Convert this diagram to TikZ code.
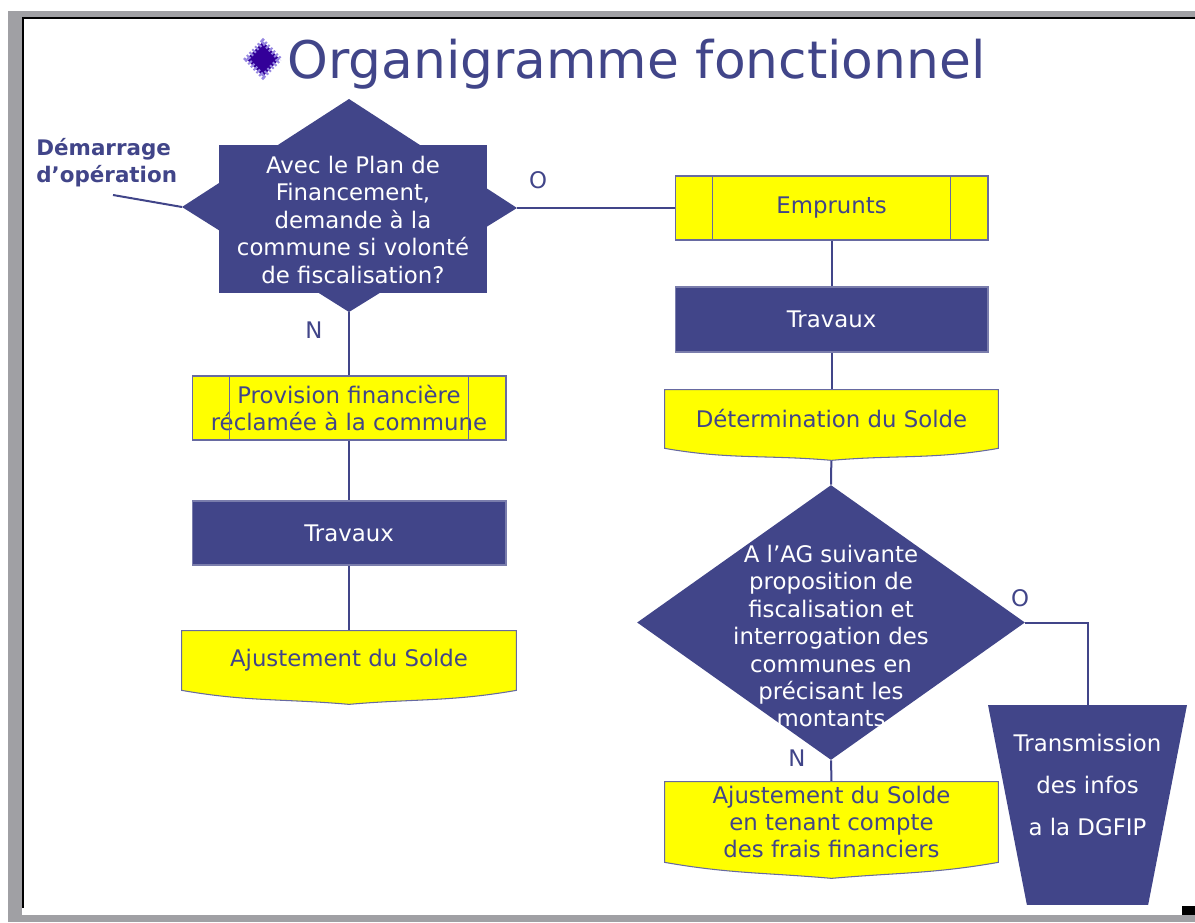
\documentclass[tikz,border=0pt]{standalone}
\usepackage{fontspec}
\setmainfont{DejaVu Sans}
\usetikzlibrary{shapes.geometric,calc,backgrounds}

\definecolor{navy}{RGB}{65,69,137}
\definecolor{lemon}{RGB}{255,255,0}
\definecolor{framegrey}{RGB}{160,160,164}
\definecolor{bulletviolet}{RGB}{51,0,153}
\definecolor{halo}{RGB}{150,135,225}
\newcommand{\flattext}[3][0pt]{\makebox[0pt]{\raisebox{#1}[0pt][0pt]{\parbox[c]{#2}{\centering #3}}}}

\begin{document}
\begin{tikzpicture}[x=0.02cm, y=-0.02cm,
	every node/.style={font=\fontsize{13}{15.6}\selectfont, inner sep=0pt},
	link/.style={draw=navy, line width=0.04cm},
	yellowbox/.style={rectangle, fill=lemon, draw=navy!80, line width=0.6pt, text=navy, align=center},
	bluebox/.style={rectangle, fill=navy, draw=navy!70, line width=0.6pt, text=white, align=center},
	docbox/.style={rectangle, text=navy, align=center},
	docshape/.style={fill=lemon, draw=navy!80, line width=0.6pt},
	decision/.style={diamond, fill=navy, text=white},
	output/.style={trapezium, shape border rotate=180, trapezium left angle=79, trapezium right angle=79, trapezium stretches body, fill=navy, text=white, text height=2cm, text depth=2cm, minimum width=3.98cm},
	answer/.style={text=navy},
	bullet/.style={diamond, fill=bulletviolet, draw=halo, line width=0.1cm, dash pattern=on 0.04cm off 0.04cm, minimum width=0.7cm, minimum height=0.74cm}]
	\useasboundingbox (0,0) rectangle (1195,922);
	% title
	\node[bullet] (bullet) at (263,59) {};
	\node[font=\fontsize{29.5}{34}\selectfont, text=navy, anchor=base west] (title) at (287,79) {Organigramme fonctionnel};
	% left branch
	\node[font=\fontsize{12.2}{15.6}\selectfont\bfseries, text=navy, align=left, anchor=north west] (startlbl) at (36,138) {Démarrage\\d’opération};
	\coordinate (start) at (113,195);
	\node[bluebox, draw=none, minimum width=5.36cm, minimum height=2.96cm] (ask) at (353,219) {\flattext[-0.12cm]{5cm}{Avec le Plan de\\ Financement,\\ demande à la\\ commune si volonté\\ de fiscalisation?}};
	\coordinate (ask-n) at (349,99);
	\coordinate (ask-w) at (182,207);
	\coordinate (ask-e) at (517,208);
	\coordinate (ask-s) at (349,312);
	\node[answer] (yes1) at (538,180) {O};
	\node[answer] (no1) at (314,330) {N};
	\node[yellowbox, minimum width=6.28cm, minimum height=1.28cm] (prov) at (349,408) {Provision financière\\ réclamée à la commune};
	\node[bluebox, minimum width=6.28cm, minimum height=1.28cm] (travL) at (349,533) {Travaux};
	\node[docbox, minimum width=6.68cm, minimum height=1.18cm] (ajustL) at (349,660.5) {Ajustement du Solde};
	% right branch
	\node[yellowbox, minimum width=6.26cm, minimum height=1.28cm] (empr) at (831.5,208) {Emprunts};
	\node[bluebox, minimum width=6.26cm, minimum height=1.3cm] (travR) at (831.5,319.5) {Travaux};
	\node[docbox, minimum width=6.66cm, minimum height=1.16cm] (solde) at (831.5,419) {Détermination du Solde};
	\node[decision, minimum width=7.76cm, minimum height=5.5cm] (vote) at (831,622.5) {\flattext[-0.38cm]{4.4cm}{A l’AG suivante\\ proposition de\\ fiscalisation et\\ interrogation des\\ communes en\\ précisant les\\ montants}};
	\node[answer] (yes2) at (1020,598) {O};
	\node[answer] (no2) at (797,758) {N};
	\node[docbox, minimum width=6.66cm, minimum height=1.6cm] (ajustR) at (831.5,822) {Ajustement du Solde\\ en tenant compte\\ des frais financiers};
	\node[output, font=\fontsize{13}{24}\selectfont] (trans) at (1087.5,805) {\flattext[0.29cm]{3.6cm}{Transmission\\ des infos\\ a la DGFIP}};
	% side bars of the yellow process boxes
	\foreach \n in {empr, prov} {\draw[navy!80, line width=0.6pt] ($(\n.north west)+(38,0)$) -- ($(\n.south west)+(38,0)$); \draw[navy!80, line width=0.6pt] ($(\n.north east)+(-38,0)$) -- ($(\n.south east)+(-38,0)$);}
	\begin{scope}[on background layer]
		% slide frame
		\fill[framegrey] (8,11) rectangle (1195,922);
		\fill[white] (22,17) rectangle (1195,915);
		\draw[black, line width=0.04cm] (23,908) -- (23,18) -- (1195,18);
		\fill[black] (1182,906) rectangle (1195,915);
		% connectors
		\draw[link] (start) -- (ask-w);
		\draw[link] (ask-e) -- (empr.west);
		\draw[link] (ask-s) -- (prov.north);
		\draw[link] (prov) -- (travL);
		\draw[link] (travL) -- (ajustL);
		\draw[link] (empr) -- (travR);
		\draw[link] (travR) -- (solde);
		\draw[link] (solde.south) -- (vote.north);
		\draw[link] (vote.east) -| (trans.north);
		\draw[link] (vote.south) -- (ajustR.north);
		% first decision
		\fill[navy] (ask-n) -- (ask-e) -- (ask-s) -- (ask-w) -- cycle;
		% document shapes
		\foreach \n/\d in {solde/12, ajustL/14, ajustR/16} \filldraw[docshape] (\n.south east) to[out=190,in=5] ($(\n.south)+(0,\d)$) to[out=175,in=-10] (\n.south west) -- (\n.north west) -- (\n.north east) -- cycle;
	\end{scope}
\end{tikzpicture}
\end{document}
